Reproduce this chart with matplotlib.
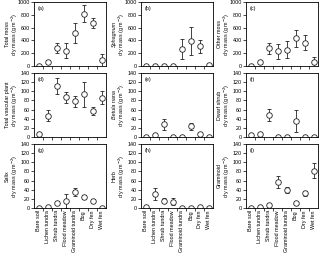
import matplotlib
matplotlib.use("Agg")
import matplotlib.pyplot as plt
import numpy as np

plt.rcParams["font.family"] = ["Liberation Sans", "DejaVu Sans"]

sites = ["Bare soil", "Lichen tundra", "Shrub tundra", "Flood meadow",
         "Graminoid tundra", "Bog", "Dry fen", "Wet fen"]

total_moss = [0, 60, 280, 240, 520, 820, 670, 90]
total_moss_err = [5, 30, 75, 115, 155, 140, 80, 100]
sphagnum = [0, 0, 0, 0, 265, 390, 305, 15]
sphagnum_err = [0, 0, 0, 0, 160, 220, 95, 5]
other_moss = [0, 55, 280, 230, 255, 430, 365, 60]
other_moss_err = [5, 30, 85, 120, 135, 140, 120, 85]

total_vasc = [7, 47, 112, 87, 78, 93, 57, 86]
total_vasc_err = [2, 12, 18, 12, 12, 27, 8, 14]
betula = [0, 5, 28, 1, 0, 23, 6, 0]
betula_err = [0, 2, 12, 0, 0, 8, 2, 0]
dwarf_shrub = [4, 7, 48, 0, 0, 35, 1, 0]
dwarf_shrub_err = [1, 2, 13, 0, 0, 23, 0, 0]

salix = [0, 3, 11, 16, 35, 24, 16, 1]
salix_err = [0, 1, 3, 15, 9, 4, 3, 0]
herb = [2, 30, 16, 14, 1, 0, 3, 1]
herb_err = [0, 13, 6, 8, 0, 0, 1, 0]
graminoid = [1, 2, 6, 57, 39, 10, 32, 82]
graminoid_err = [0, 1, 2, 13, 6, 3, 6, 16]

panels = [
    ("(a)", total_moss, total_moss_err, "Total moss", False, 1000, 200),
    ("(b)", sphagnum, sphagnum_err, "Sphagnum", True, 1000, 200),
    ("(c)", other_moss, other_moss_err, "Other moss", False, 1000, 200),
    ("(d)", total_vasc, total_vasc_err, "Total vascular plant", False, 140, 20),
    ("(e)", betula, betula_err, "Betula nana", True, 140, 20),
    ("(f)", dwarf_shrub, dwarf_shrub_err, "Dwarf shrub", False, 140, 20),
    ("(g)", salix, salix_err, "Salix", False, 140, 20),
    ("(h)", herb, herb_err, "Herb", False, 140, 20),
    ("(i)", graminoid, graminoid_err, "Graminoid", False, 140, 20),
]

fs = 3.9
fig = plt.figure(figsize=(3.2, 2.6), dpi=100)
lefts = [34 / 320, 141 / 320, 246 / 320]
bottoms = [1 - 66 / 260, 1 - 137 / 260, 1 - 208 / 260]
w = 72 / 320
h = 64 / 260
x = np.arange(len(sites))

for i, (tag, vals, err, name, ital, ymax, step) in enumerate(panels):
    r, c = divmod(i, 3)
    ax = fig.add_axes([lefts[c], bottoms[r], w, h])
    ax.errorbar(x, vals, yerr=err, fmt="o", mfc="white", mec="#222222",
                ms=4.0, mew=0.6, ecolor="#222222", elinewidth=0.6,
                capsize=1.4, capthick=0.6)
    ax.set_xlim(-0.5, len(sites) - 0.5)
    ax.set_ylim(0, ymax)
    ax.set_yticks(np.arange(0, ymax + 1, step))
    ax.tick_params(axis="y", labelsize=fs, length=2, width=0.5, pad=1)
    ax.set_xticks(x)
    ax.set_xticks(x[:-1] + 0.5, minor=True)
    ax.tick_params(axis="x", which="major", length=0, pad=1.5)
    ax.tick_params(axis="x", which="minor", length=2, width=0.5)
    if r == 2:
        ax.set_xticklabels(sites, rotation=90, fontsize=fs)
    else:
        ax.set_xticklabels([])
    for s in ax.spines.values():
        s.set_linewidth(0.6)
    ax.text(0.05, 0.93, tag, transform=ax.transAxes, fontsize=fs,
            va="top", ha="left")
    style = "italic" if ital else "normal"
    ax.text(-0.37, 0.5, name, transform=ax.transAxes, rotation=90,
            fontsize=fs, fontstyle=style, ha="center", va="center")
    ax.text(-0.26, 0.5, "dry mass (g m$^{-2}$)", transform=ax.transAxes,
            rotation=90, fontsize=fs, ha="center", va="center")

fig.savefig("out.png", dpi=100)
